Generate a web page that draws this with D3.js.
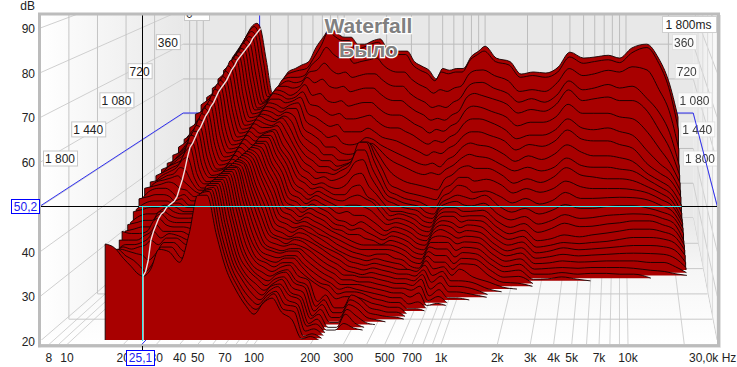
<!DOCTYPE html>
<html>
<head>
<meta charset="utf-8">
<script src="https://cdn.jsdelivr.net/npm/d3@7"></script>
<style>
body { margin: 0; background: #fff; }
svg { display: block; }
text { font-family: "Liberation Sans", Arial, sans-serif; font-size: 12px; fill: #222; }
</style>
</head>
<body>
<svg width="737" height="367"></svg>
<script>
var svg = d3.select('svg')

// one slice every 40 ms, the list under each frequency runs from 0 ms forward
// a list stops where the level has gone under the 20 dB floor
var sliceStep = 40
var sliceCount = 46
var freqs = [16, 18, 20, 22, 24, 25.5, 28, 31, 35, 40, 45, 50, 56, 63, 71, 80, 90, 100, 112, 125, 140, 160, 180, 200, 225, 250, 280, 315, 355, 400, 450, 500, 560, 630, 700, 800, 900, 1000, 1200, 1500, 1800, 2200, 2700, 3300, 4000, 5000, 6000, 7500, 9000, 11000, 14000, 17000, 20000, 23400]
var levels = [
  [66,65,63,64,61.5,62.5,60.5,61,58.5,59.5,57.5,58.5,56,57,54,54.5,52.5,52.5,50.5,51.5,49.5,50.5,48.5,49.5,47.5,49,47,48.5,47,48,46.5,47.5,45.5,46,44,44,42,42,41,41.5,40,38,37,38,39.5,41.7],
  [69,68,67,66,65,64.5,63.5,62.5,61.5,61,60.5,60,59,58,57,56,55,54,53.5,53,52,51.5,51,50.5,50.5,50,50,49.5,49,48.5,48.5,48,47.5,46.5,45.5,44.5,43.5,42.5,41.5,41,40,39.5,39.5,39.5,40,40.8],
  [72,71,70,68.5,67.5,67,65.5,64.5,64,63,62.5,61.5,60.5,59.5,59,58.5,57.5,56.5,55.5,55,54.5,53.5,53,52.5,52,51.5,51,50.5,50,49.5,49,48.5,48,47,46,45,44,43,42,41,40,39.5,39,39,38.5,38.5],
  [75,74,73,71.5,70.5,70,68.5,67.5,67,66,65.5,64.5,63.5,62.5,61.5,61,60,59,58,57,56,55.5,55,54.5,54,53,52,51.5,51,50,49.5,49,48,47,46,45,44,43,42,41.5,41,40,39.5,38.5,37.5,36.7],
  [76,75.5,74.5,73.5,73,72.5,71.5,71,70.5,70,70,69,68,67,66.5,66,65,64,63,62.5,62,61,60,59,58,57.5,56,54.5,53,51.5,50,48.5,47,46.5,46,45.5,45,45,44.5,44,42,41,40,38,36,35],
  [74.5,74,73.5,73,72,71.5,71,70.5,70,69.5,68.5,68,67,66,65.5,65,64.5,63.5,62.5,62,61,60.5,59.5,58.5,58,57,56,55.5,53.5,51,49,47.5,46,45.5,45.5,45.5,45.5,45,45,44.5,43.5,42.5,41,37,35,34.5],
  [65.4,65,64.5,64,63,62.5,62,61.5,61,60,59.5,59,58,57.5,57,56,55,54.5,54,53,52.5,52,51.5,51,50.5,50,49.5,49,48.5,48,47.5,47,46.5,46,45.5,45,44.5,44,43.5,43,42,41,40,38.5,37,36],
  [56,56,56,55.5,55.5,55.5,55,55,54.5,54,53.5,53,52.5,52,51.5,51,50.5,50,49.5,49,48.5,48,47.5,47.5,47,47,46.5,46.5,46,46,46,45.5,45,44.5,44.5,44,44,43.5,43,42.5,42,42,41.5,41,40.5,40.5],
  [58,58,57.5,57.5,57,56.5,56,55.5,55,54.5,54,53.5,53,52.5,52,51.5,51,50.5,50,49.5,49,48.5,48,48,47.5,47,47,46.5,46,46,45.5,45.5,45,44.5,44.5,44,44,43.5,43,42.5,42,41.5,41.5,41,40.5,40],
  [62,61.5,61,60,60,59.5,59,58,57.5,57,56.5,56,56,55.5,55,54.5,54,53.5,53,52.5,52,51.5,51,50.5,50,49.5,49,48.5,48,47.5,47,46.5,46,45.5,45.5,45,44.5,44,43,42,41,40.5,40,39,38,37.6],
  [63,62.5,61.5,61,60,59,58.5,58,57,56.5,56,55.5,55,54.5,54,53,52.5,52,51.5,51,50.5,50,49.5,49.5,49,49,48.5,48.5,48,48,48,47.5,47.5,47,47,47,46.5,46.5,46,46,46,45.5,45,45,44.5,44],
  [64,63,61.5,60.5,59.5,58,57.5,57,56,55.5,55,54.5,54.5,54,54,53.5,53.5,53.5,53.5,53,53,53,53,53,53,53,53,53,53,53,53,53,53,53,53,53,53,53,53,53,53,53,52.5,52.5,52.5,52.6],
  [65,63.5,62,61,60,59,58,57.5,57,56.5,56,55.5,55.5,55,54.5,54,54,53.5,53.5,53,53,52.5,52.5,52,52,52,52,52,52,52.5,52.5,52.5,53,53,53,53,53,53,53,53,53,53,53,53,53,52.6],
  [69,66.5,65,63.5,62.5,61,59.5,58.5,57.5,56.5,55,54,53,52,51,50,49.5,49.5,49,48.5,48,48,47.5,47.5,47,47,46.5,46,46,46,46,45.5,45.5,45.5,45,45,45,44.5,44.5,44.5,44,44,44,43.5,43.7,43.7],
  [72,70,67,64,61,58,56,54,52.5,51,50,49,48.5,48,47.5,47,46.5,46,45.5,45,44.5,44,43.5,43,42.5,42,41.5,41,40.5,40,39.5,39,38.5,38,37.5,37.5,37,36.5,36.5,36,36,36,36,36,36,36],
  [74.6,74,70,66,62,58.5,55.5,53,51,49.5,48,46.5,45.5,44.5,43.5,42.5,42,41,40.5,39.5,39,38.5,38,37.5,37,36.5,36,35.5,35,35,34.5,34,34,33.5,33.5,33,33,32.5,32.5,32.5,32,32,32,31.5,31.5,31.4],
  [73,72.5,68,64,60,56.5,54,51.5,49.5,48,46.5,45,44,43,42,41,40.5,39.5,39,38.5,38,37.5,37,36.5,36,35.5,35,34.5,34,34,33.5,33,33,32.5,32,32,31.5,31,30.5,30.5,30,29.5,29,28.5,28,28],
  [72,71.5,67,63,59.5,56,53,50.5,48,46,44.5,43.5,42.5,41.5,40.5,39.5,39,38,37.5,37,36.5,36,35.5,35,35,34.5,34,33.5,33.5,33,33,32.5,32.5,32,31.5,31,30.5,30,29.5,29,28.5,28,27.5,27,26.5,26],
  [72,71.5,67.5,63.5,60,56.5,53.5,51,48.5,46,44.5,43.5,42.5,41.5,41,40,39.5,39,38.5,38,37.5,37,36.5,36,35.5,35,35,34.5,34,34,33.5,33,33,32.5,32.5,32,31.5,31,31,30.5,30,30,29.5,29,28.5,28.5],
  [70,69,65.5,62,58.5,55,52,49,46.5,44.5,43,42,41.5,41,40,39,38.5,38,37.5,37,36.5,36,35.5,35,34.5,34.5,34,34,33.5,33.5,33,33,33,32.5,32.5,32,32,31.5,31.5,31,31,30.5,30.5,30,30,29.6],
  [70,69.5,66,62.5,59,55.5,52,49,46,44,43,42.5,42.5,42,40.5,38.5,37.5,37,36.5,36,35.5,35,34.5,34,33.5,33,33,32.5,32.5,32,32,31.5,31,30.5,30.5,30,29.5,29,29,28.5,28,28,27.5,27,26.5,26.5],
  [71,70.5,66.5,63,59.5,56,52.5,49,46.5,44.5,44,43.6,44,43.5,42,39.5,37.5,36.5,35.5,34.5,33.5,33,32.5,32.5,32,32,31.5,31,31,30.5,30,29.5,29,28.5,28,28,28.5,28,28,27.5,27,27,26.5,26.5,26,24.7],
  [71.5,71,67,63,59.5,56,53,50,48,47,47.5,48.5,49,47.5,45,42,39.5,37.5,36,35,33,32.5,32,31.5,31,30.5,30,30,29.5,29,28.5,28,27.5,27,26.5,26.5,23.5,23,22.5,22,22,21.5,21.5,21,20.5,20.5],
  [69,68.5,65,61.5,58,54.5,51.5,49,47.5,47,47.5,48.5,49,47.5,45.5,42.5,40,38,36,34,32,31.5,31,30.5,30,29.5,29,29,28.5,28,27.5,27,26.5,26,26,25.5,25,24.5,24,23.5,23,22.5,22,21.5,21,21],
  [68,67.5,63.5,60,56.5,53,50,47.5,46,45.5,45,44.5,44,42.5,41,39,37,37,35.5,34,33,32,31,29.5,29,28.5,28,27.5,27,26.5,26,25.5,25,24.5,24,23.5,22,21.5,21,20.5,20],
  [68,67.5,63,59.5,56,52.5,49.5,47,45,43.5,42,41,40,39,38,37,36,36,34.5,33,32,31,30,29,28.5,28,27.5,27,26.5,26,26,25.5,25,25,24.5,24,22,21.5,21,20.5,20],
  [68,67.5,63,59.5,56,52.5,49.5,46.5,44,42,39.5,37,36,35.5,35,34.5,34,33.5,32.5,31.5,30.5,30,29.5,29,28.5,27.5,27,26.5,26,25.5,25.5,25,25,24.5,24.5,24,25,24.5,24,23.5,23,21.5,20],
  [65,64.5,61,57.5,54.5,51.5,48.5,45.5,43,41,38,36,35,34.5,34,32.5,32,31.5,31,30,29.5,29,28.5,29,28.5,28,27.5,27,26.5,26,25.5,25,24.5,24,24,23.5,24,23.5,23,22,21,20.5,20],
  [63.7,63,59.5,56,53,50,47.5,44.5,42,40,37,35,34,33.5,33,32.5,32.5,32,31.5,31,30.5,30,29.5,29,28.5,28,27,26.5,26,25.5,25,24.5,24,23.5,23,22.5,22,21.5,21,20.5,20],
  [62.5,62,58.5,55,52,49,46,43.5,41,39,36.5,34.5,33.5,33,32.5,32,32,31.5,31,30.5,30,29.5,29,28.5,28,27,26.5,26,25.5,25,24.5,24,23.5,23,22.5,22,21.5,21,20.5,20],
  [60,60,57,53.5,50.5,47.5,45,42.5,40.5,38.5,36,34,33,32.5,32,31.5,31,30.5,30,29.5,29,28.5,28,27.5,27,26.5,26,25.5,25,24.5,24,23.5,23,22.5,22,21.5,21,20.6],
  [63,62.5,58,54,51,48.5,46,43.5,41,39,35.5,33.5,32,31,30.5,30,29.5,29,28.5,28,27.5,27,26.5,26,25.5,25,24.5,25.5,25,24.5,24,23.5,23,22.5,22,21.5,21,20.5],
  [62.5,62,57.5,53.5,50.5,48,45.5,43,40,38.5,35,33,31.5,30.5,30,29.5,29,28.5,28,27.5,27,26.5,26,25.5,25,24.5,24,25,24.5,24,23.5,23,22,21,20.5],
  [63,62.5,58.5,55,52,49.5,47,44.5,42,40,38,36,34.5,33.5,33,32.5,32,31.5,31,30.5,30,29.5,29,28.5,28,27.5,27,26.5,26,25.5,25,24,23,21.5,20.5],
  [63,62.5,59,56,53,50.5,48,45.5,43,41,39,37,35.5,34.5,34,33.5,33,32.5,32,31.5,31,30,29,28,27,26,25,24,23,22,21,20.5],
  [66.5,66,62.5,59.5,57,54,51,48,45.5,43,41,39,37.5,35.5,34.5,33.5,33,32.5,31.5,31,30,29.5,29,28,27,26,25.5,25,24.5,23.5,22.5,21.5,20.5],
  [68,67.5,63.5,60.5,58,55,52,49,46.5,44,41.5,39,37,35,33.5,32.5,31.8,31,30.2,29.5,28.8,28,27,26,25,24.2,23.4,22.7,22,21.3,20.5],
  [69.4,68.5,63.6,60.6,57.5,54.7,52,49,46,43.5,40.8,38,35.6,34.5,33.3,32.5,32,31.5,30.9,30.1,29.3,28.5,27.8,27.1,26.3,25.6,24.9,22.7,22,21.3,20.5],
  [66,65.5,62,59,56.5,53.5,51,48,45.5,43,40.8,38.5,36,35.5,34,32.8,32,31.3,30.5,29.7,29,28.3,27.5,26.8,26.1,25.4,23,22.3,21.5,20.8],
  [65,64.5,60.5,57.5,55,52,49,46.5,43.5,41,39,37,34.5,32.5,31,29.8,29,28.2,27.4,26.6,26,25.3,24.6,24,23.3,22.5,21.7,20.7],
  [61.4,61,57.5,55,52.5,49.5,46.5,44,41.5,39.5,36.8,34.8,32.8,31,29.6,28.3,27.3,26.5,25.7,24.9,24.3,23.6,22.9,22.3,21.6,21,20.5],
  [62,61.5,58,56,53.5,50.5,47.5,45.5,43,40.5,38,36,34,32,30.5,29.3,28.2,27.3,26.5,25.7,25,24.2,23.5,22.7,21.8,20.8],
  [61.7,61,57.5,55,53,50.5,47.5,45,42,39.5,37,35,32.5,30.5,28.5,27,25.5,24.5,23.7,23,22.3,21.6,21,20.4],
  [63.4,62.5,60,57,55,52,49,46.5,43.5,40.5,38.5,36,33.5,31.5,29.5,28,26,25,24.2,23.4,22.5,21.8,21,20.5],
  [67.7,66.8,64,61,59,55.5,52,49.5,46,43,41,38,35.6,33,31,29.4,27,25.7,25,24,23,22,21.4,21],
  [66,65,62,58.5,56,53,49.5,47,44,41,39,36.5,34,32,30,28.5,26.5,25.4,24.5,23.6,22.7,21.8,21,20.4],
  [66.3,65.5,62.5,59,56.5,53,49,46.5,43,40.5,38.5,36,34,32,30.2,28.6,27,25.7,24.7,23.8,22.8,22,21.2],
  [66.8,66,63.5,60,57,53,49.5,46.5,43,40.5,38,36,34.2,32.5,30.8,29.2,27.5,26,25,24,23,22,21.2],
  [66,65.2,63,59,56,52,48.5,45.5,42.5,40,38,36,34.3,32.7,31,29.5,28,26.5,25.3,24.2,23,22,21],
  [68.9,68,64.5,59.5,56,51.5,47.5,44.5,41.5,39.5,37.5,35.7,34.2,32.7,31.2,30,28.5,27,25.6,24.3,23,21.8,21],
  [70,69.5,63.6,56,53,47.7,43,40,38,37,35.7,34.7,33.5,32,31,30,28.5,27,25.6,24.2,22.6,21.3],
  [66,65,58,52,47.5,43,39.5,37.5,36,35,34,33,32,31,30,29,27.8,26.6,25.3,24,22.6,21],
  [59.6,58,52,46.5,42.5,39,37,35.5,34,33,32,31.3,30.5,29.7,28.8,27.8,26.7,25.6,24.4,23,21.5,20.4],
  [49,46,41,37,35,33.5,32,31,29.5,28,27,26.7,26,25.3,24,23.6,23,22.3,21.2,20.6]
]

var sectionFreq = 25.5
var cursorFreq = 25.1
var cursorDb = 50.2
var dbTicks = [20, 30, 40, 50, 60, 70, 80, 90]
var timeTicks = [360, 720, 1080, 1440, 1800]
var timeTickLabels = ['360', '720', '1 080', '1 440', '1 800']
var freqGrid = [8, 9, 10, 20, 30, 40, 50, 60, 70, 80, 90, 100, 200, 300, 400, 500, 600, 700, 800, 900, 1000, 2000, 3000, 4000, 5000, 6000, 7000, 8000, 9000, 10000, 20000]
var freqLabels = ['8', '10', '20', '30', '40', '50', '70', '100', '200', '300', '500', '700', '1k', '2k', '3k', '4k', '5k', '7k', '10k']
var freqLabelAt = [8, 10, 20, 30, 40, 50, 70, 100, 200, 300, 500, 700, 1000, 2000, 3000, 4000, 5000, 7000, 10000]

var fMin = 7.2
var fMax = 30000
var floorDb = 20

// front plane and back plane of the box
var xFront = d3.scaleLog().domain([10, 10000]).range([67, 628])
var xBack = d3.scaleLog().domain([10, 10000]).range([203.3, 626])
var yFront = d3.scaleLinear().domain([20, 90]).range([341, 28])
var yBack = d3.scaleLinear().domain([20, 50.2]).range([218, 113])
var depth = d3.scaleLinear().domain([1800, 0]).range([0, 1])
var yGridFloor = d3.scaleLinear().domain([0, 1]).range([344.5, 218])

function px (f, t) {
  var d = depth(t)
  return xFront(f) * (1 - d) + xBack(f) * d
}
function py (db, t) {
  var d = depth(t)
  return yFront(db) * (1 - d) + yBack(db) * d
}

var boxL = xFront(fMin)
var boxR = xFront(fMax)
var backL = xBack(fMin)
var backR = xBack(fMax)

var defs = svg.append('defs')
var wallL = defs.append('linearGradient').attr('id', 'wallL')
wallL.append('stop').attr('offset', 0).attr('stop-color', '#fff')
wallL.append('stop').attr('offset', 1).attr('stop-color', '#e8e8e8')
var wallR = defs.append('linearGradient').attr('id', 'wallR')
wallR.append('stop').attr('offset', 0).attr('stop-color', '#e8e8e8')
wallR.append('stop').attr('offset', 1).attr('stop-color', '#fafafa')
var wallF = defs.append('linearGradient').attr('id', 'wallF').attr('x2', 0).attr('y2', 1)
wallF.append('stop').attr('offset', 0).attr('stop-color', '#e8e8e8')
wallF.append('stop').attr('offset', 0.4).attr('stop-color', '#f6f6f6')
wallF.append('stop').attr('offset', 1).attr('stop-color', '#fff')

defs.append('clipPath').attr('id', 'plotClip')
  .append('rect').attr('x', boxL).attr('y', 15).attr('width', boxR - boxL).attr('height', 325)
var dataClip = defs.append('clipPath').attr('id', 'dataClip')

var plot = svg.append('g').attr('clip-path', 'url(#plotClip)')
var bottom = yGridFloor(0)
var back = yGridFloor(1)

// walls
plot.append('rect').attr('x', backL).attr('y', 0).attr('width', backR - backL).attr('height', back)
  .style('fill', '#e8e8e8')
plot.append('path').attr('d', 'M' + [boxL, 0] + 'L' + [backL, 0] + 'L' + [backL, back] + 'L' + [boxL, bottom] + 'Z')
  .style('fill', 'url(#wallL)')
plot.append('path').attr('d', 'M' + [backR, 0] + 'L' + [boxR, 0] + 'L' + [boxR, bottom] + 'L' + [backR, back] + 'Z')
  .style('fill', 'url(#wallR)')
svg.append('path').attr('d', 'M' + [backL, back] + 'L' + [backR, back] + 'L' + [boxR, bottom] + 'L' + [boxL, bottom] + 'Z')
  .style('fill', 'url(#wallF)')

function seg (parent, x1, y1, x2, y2, col, w) {
  return parent.append('line')
    .attr('x1', x1).attr('y1', y1).attr('x2', x2).attr('y2', y2)
    .style('stroke', col).style('stroke-width', w || 1)
}

var gridCol = '#bdbdbd'
var gridGroup = svg.append('g')
dbTicks.forEach(function (db) {
  seg(plot, boxL, yFront(db), backL, yBack(db), '#cfcfcf')
  seg(plot, backL, yBack(db), backR, yBack(db), gridCol)
  seg(plot, backR, yBack(db), boxR, yFront(db), '#cfcfcf')
})
freqGrid.forEach(function (f) {
  seg(plot, xBack(f), 0, xBack(f), back, gridCol)
  seg(gridGroup, xFront(f), bottom, xBack(f), back, '#d2d2d2')
})
timeTicks.forEach(function (t) {
  var d = depth(t)
  var xl = boxL + (backL - boxL) * d
  var xr = boxR + (backR - boxR) * d
  seg(plot, xl, 0, xl, yGridFloor(d), '#c4c4c4')
  seg(plot, xr, 0, xr, yGridFloor(d), '#dcdcdc')
  seg(gridGroup, xl, yGridFloor(d), xr, yGridFloor(d), '#c8c8c8')
})

// time labels on both walls
var labelX = d3.scaleLinear().domain([1800, 0]).range([43, 184])
var labelXR = d3.scaleLinear().domain([1800, 360]).range([683, 672])
var labelY = d3.scaleLinear().domain([1800, 0]).range([158.5, 13])

function box (parent, x, y, txt, col, border, anchorW) {
  var g = parent.append('g')
  var r = g.append('rect')
  var tx = g.append('text').text(txt).attr('x', x + 2).attr('y', y + 4.5).style('fill', col)
  var w = anchorW || tx.node().getComputedTextLength() + 4
  r.attr('x', x + 0.5).attr('y', y - 7.5).attr('width', w).attr('height', 15)
    .style('fill', '#fff').style('stroke', border)
  return g
}
box(plot, labelX(0), labelY(0), '0', '#222', '#c8c8c8', 25)
timeTicks.forEach(function (t, i) {
  box(plot, labelX(t), labelY(t), timeTickLabels[i], '#222', '#c8c8c8')
  box(plot, labelXR(t), labelY(t), timeTickLabels[i], '#222', '#e0e0e0').style('opacity', 0.85)
})

// cursor, behind the data
var blue = '#2f2ff0'
seg(plot, boxL, yFront(cursorDb), backL, yBack(cursorDb), blue)
seg(plot, backL, yBack(cursorDb), backR, yBack(cursorDb), blue)
seg(plot, backR, yBack(cursorDb), boxR, yFront(cursorDb), blue)
seg(plot, xBack(cursorFreq), 0, xBack(cursorFreq), back, blue)
seg(svg, xFront(cursorFreq), bottom, xBack(cursorFreq), back, blue)
seg(svg, boxL, Math.round(yFront(cursorDb)) + 0.5, boxR, Math.round(yFront(cursorDb)) + 0.5, '#000')
seg(plot, Math.round(xFront(cursorFreq)) + 0.5, 0, Math.round(xFront(cursorFreq)) + 0.5, bottom, '#000')

// slices, back first
var times = d3.range(sliceCount).map(function (i) { return i * sliceStep })

var area = d3.area()
  .x(function (d) { return d.x })
  .y0(function (d) { return d.y0 })
  .y1(function (d) { return d.y })
  .curve(d3.curveMonotoneX)

var line = d3.line()
  .defined(function (d) { return d.up })
  .x(function (d) { return d.x })
  .y(function (d) { return d.y })
  .curve(d3.curveMonotoneX)

var dataG = svg.append('g').attr('clip-path', 'url(#plotClip)')

times.forEach(function (t, ti) {
  var vals = levels.map(function (row) {
    var v = row[ti]
    return v === undefined ? floorDb : Math.max(v, floorDb)
  })
  var last = d3.max(vals, function (v, k) { return v > floorDb ? k : -1 })
  if (last < 0) return
  last = Math.min(last + 1, freqs.length - 1)
  var pts = vals.slice(0, last + 1).map(function (v, k) {
    return {
      x: px(freqs[k], t),
      y: py(v, t),
      y0: py(floorDb, t),
      up: v > floorDb || vals[k - 1] > floorDb || vals[k + 1] > floorDb
    }
  })
  dataG.append('path').attr('d', area(pts)).style('fill', '#a80000').style('stroke', 'none')
  dataG.append('path').attr('d', line(pts)).style('fill', 'none').style('stroke', '#120000').style('stroke-width', 0.9)
  seg(dataG, pts[0].x, pts[0].y, pts[0].x, pts[0].y0, '#120000', 0.9)
  var e = pts[pts.length - 1]
  seg(dataG, e.x, e.y, e.x, e.y0, '#120000', 0.9)
  dataClip.append('path').attr('d', area(pts))
})

// cursor where it runs over the data
var cyanG = svg.append('g').attr('clip-path', 'url(#dataClip)')
seg(cyanG, boxL, Math.round(yFront(cursorDb)) + 0.5, boxR, Math.round(yFront(cursorDb)) + 0.5, '#2ff0f0')
seg(cyanG, Math.round(xFront(cursorFreq)) + 0.5, yFront(cursorDb), Math.round(xFront(cursorFreq)) + 0.5, bottom, '#2ff0f0')

// level against time at the cursor frequency
var sectionRow = levels[freqs.indexOf(sectionFreq)]
var sectionPts = times.map(function (t, i) {
  return { x: px(sectionFreq, t), y: py(sectionRow[i], t), up: true }
})
sectionPts.push({ x: px(sectionFreq, 1800), y: py(floorDb, 1800) - 1, up: true })
dataG.append('path')
  .attr('d', d3.line().x(function (d) { return d.x }).y(function (d) { return d.y })(sectionPts))
  .style('fill', 'none').style('stroke', '#efdcdc').style('stroke-width', 1.4)

// frame
svg.append('rect').attr('x', 39.5).attr('y', 14).attr('width', 679).attr('height', 332)
  .style('fill', 'none').style('stroke', '#bcbcbc').style('stroke-width', 3)
svg.append('path').attr('d', 'M720.5,15V347.5H41').style('fill', 'none').style('stroke', '#e2e2e2')

// axes text
var yAxis = svg.append('g')
dbTicks.forEach(function (db) {
  yAxis.append('text').text(db).attr('x', 35).attr('y', yFront(db) + 5).attr('text-anchor', 'end')
})
yAxis.append('text').text('dB').attr('x', 35).attr('y', 10).attr('text-anchor', 'end')
var xAxis = svg.append('g')
freqLabels.forEach(function (l, i) {
  xAxis.append('text').text(l).attr('x', xFront(freqLabelAt[i])).attr('y', 362).attr('text-anchor', 'middle')
})
xAxis.append('text').text('30,0k Hz').attr('x', 689).attr('y', 362)

// the two cursor readouts
svg.append('rect').attr('x', 11.5).attr('y', 199.5).attr('width', 28).attr('height', 14).style('fill', '#fff').style('stroke', '#0000ff')
svg.append('text').text('50,2').attr('x', 25.5).attr('y', 211).attr('text-anchor', 'middle').style('fill', '#2020f0')
seg(svg, Math.round(xFront(cursorFreq)) + 0.5, 346, Math.round(xFront(cursorFreq)) + 0.5, 351, '#000')
svg.append('rect').attr('x', 126.5).attr('y', 350.5).attr('width', 28).attr('height', 15).style('fill', '#fff').style('stroke', '#0000ff')
svg.append('text').text('25,1').attr('x', 140.5).attr('y', 362).attr('text-anchor', 'middle').style('fill', '#2020f0')

// legend box, title
svg.append('rect').attr('x', 662.5).attr('y', 16.5).attr('width', 54).attr('height', 16).style('fill', '#fff').style('stroke', '#cfcfcf')
svg.append('text').text('1 800ms').attr('x', 665.5).attr('y', 29)
var titles = ['Waterfall', 'Было']
var titleY = [33, 57]
titles.forEach(function (t, i) {
  svg.append('text').text(t).attr('x', 368.5).attr('y', titleY[i]).attr('text-anchor', 'middle')
    .style('font-size', '21px').style('font-weight', 'bold').style('fill', '#808080')
    .style('stroke', '#fff').style('stroke-width', 2.5).style('paint-order', 'stroke')
})
</script>
</body>
</html>
